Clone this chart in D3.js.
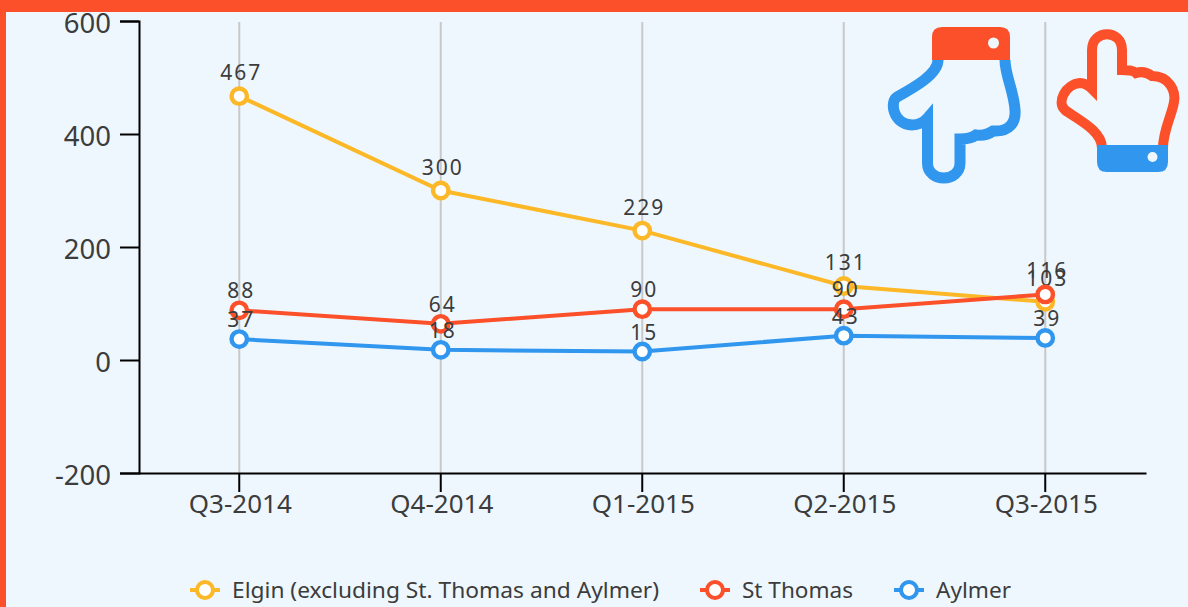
<!DOCTYPE html>
<html><head><meta charset="utf-8">
<script src="https://cdnjs.cloudflare.com/ajax/libs/d3/7.8.5/d3.min.js"></script>
<style>html,body{margin:0;padding:0;background:#eef7fe;overflow:hidden}svg{display:block}
text{font-family:"Noto Sans","Open Sans",sans-serif;fill:#3c3c3c}</style></head><body>
<svg id="c" width="1188" height="607"></svg>
<script>
const categories=["Q3-2014","Q4-2014","Q1-2015","Q2-2015","Q3-2015"];
const seriesNames=["Elgin (excluding St. Thomas and Aylmer)","St Thomas","Aylmer"];
const seriesColors=["#fcb827","#fb5029","#3096ee"];
const elginValues=[467,300,229,131,103];
const stThomasValues=[88,64,90,90,116];
const aylmerValues=[37,18,15,43,39];
const allSeries=[elginValues,stThomasValues,aylmerValues];
const yTicks=[600,400,200,0,-200];

const svg=d3.select("#c");
svg.append("rect").attr("width",1188).attr("height",12).attr("fill","#fb5029");
svg.append("rect").attr("width",6).attr("height",607).attr("fill","#fb5029");

const x=d3.scaleBand().domain(categories).range([138.5,1146]);
const y=d3.scaleLinear().domain([-200,600]).range([473,21]);
const cx=c=>x(c)+x.bandwidth()/2;

// grid
svg.append("g").selectAll("line").data(categories).join("line")
 .attr("x1",cx).attr("x2",cx).attr("y1",22).attr("y2",473)
 .attr("stroke","#c8c8c8").attr("stroke-width",2);

// y axis
const ya=svg.append("g").attr("transform","translate(139,0)")
 .call(d3.axisLeft(y).tickValues(yTicks).tickFormat(d=>String(d)).tickSize(19).tickPadding(9).tickSizeOuter(19));
ya.selectAll("path,line").attr("stroke","#000").attr("stroke-width",2);
ya.selectAll("text").attr("font-size",27.5).attr("dy","0.42em").style("font-family",'"Noto Sans"').style("fill","#3c3c3c");
// x axis
const xa=svg.append("g").attr("transform","translate(0,473)")
 .call(d3.axisBottom(x).tickSize(19).tickPadding(3).tickSizeOuter(0));
xa.selectAll("path,line").attr("stroke","#000").attr("stroke-width",2);
xa.selectAll("text").attr("font-size",26).attr("dx",1).style("font-family",'"Noto Sans"').style("fill","#3c3c3c");

const line=d3.line().x((d,i)=>cx(categories[i])).y(d=>y(d));
allSeries.forEach((vals,s)=>{
 const g=svg.append("g");
 g.append("path").attr("d",line(vals)).attr("fill","none").attr("stroke",seriesColors[s]).attr("stroke-width",4);
 g.selectAll("circle").data(vals).join("circle")
  .attr("cx",(d,i)=>cx(categories[i])).attr("cy",d=>y(d)).attr("r",7.7)
  .attr("fill","#fff").attr("stroke",seriesColors[s]).attr("stroke-width",4.4);
 g.selectAll("text").data(vals).join("text")
  .attr("x",(d,i)=>cx(categories[i])+2).attr("y",d=>y(d)-(d>=100?16:12))
  .attr("text-anchor","middle").attr("font-size",21).attr("letter-spacing",2).text(d=>d);
});

// legend
const legendX=[190,700,894];
const legendTextLen=[427,111,75];
seriesNames.forEach((n,i)=>{
 const g=svg.append("g").attr("transform",`translate(${legendX[i]},590)`);
 g.append("line").attr("x1",0).attr("x2",30).attr("stroke",seriesColors[i]).attr("stroke-width",4);
 g.append("circle").attr("cx",15).attr("r",8).attr("fill","#fff").attr("stroke",seriesColors[i]).attr("stroke-width",4);
 g.append("text").attr("x",42).attr("y",8).attr("font-size",22).attr("textLength",legendTextLen[i]).attr("lengthAdjust","spacingAndGlyphs").text(n);
});

// hand icons
const hand1=svg.append("g");
hand1.append("path").attr("fill","none").attr("stroke",seriesColors[2]).attr("stroke-width",11).attr("stroke-linejoin","miter")
 .attr("d","M938 60 C938 74 915 87 897 97 C890 101 892 124 912 125 C918 125 924 122 927.5 118 L927.5 163 C927.5 183 960 183 960 163 L960 139 C967 139 972 138 976 135 C984 136 989 134 993 131 C1010 132 1016 122 1015 110 C1014 92 1005 75 1005 60");
hand1.append("path").attr("fill",seriesColors[1])
 .attr("d","M932 60 L932 37 Q932 27 942 27 L1000 27 Q1010 27 1010 37 L1010 60 Z");
hand1.append("circle").attr("cx",993.5).attr("cy",43).attr("r",5.5).attr("fill","#eef7fe");
const hand2=svg.append("g");
hand2.append("path").attr("fill","none").attr("stroke",seriesColors[1]).attr("stroke-width",10).attr("stroke-linejoin","miter")
 .attr("d","M1102 148 C1102 130 1075 118 1065 110 C1056 102 1066 84 1080 83 C1086 83 1090 87 1092 89 L1092 50 C1092 29 1122 29 1122 50 L1122 70 C1128 70 1133 70 1136 73 C1142 71 1148 73 1152 76 C1170 76 1176 92 1174 102 C1172 115 1163 130 1163 148");
hand2.append("path").attr("fill",seriesColors[2])
 .attr("d","M1097 145 L1168 145 L1168 162 Q1168 172 1158 172 L1107 172 Q1097 172 1097 162 Z");
hand2.append("circle").attr("cx",1152.5).attr("cy",157).attr("r",5).attr("fill","#eef7fe");
</script></body></html>
